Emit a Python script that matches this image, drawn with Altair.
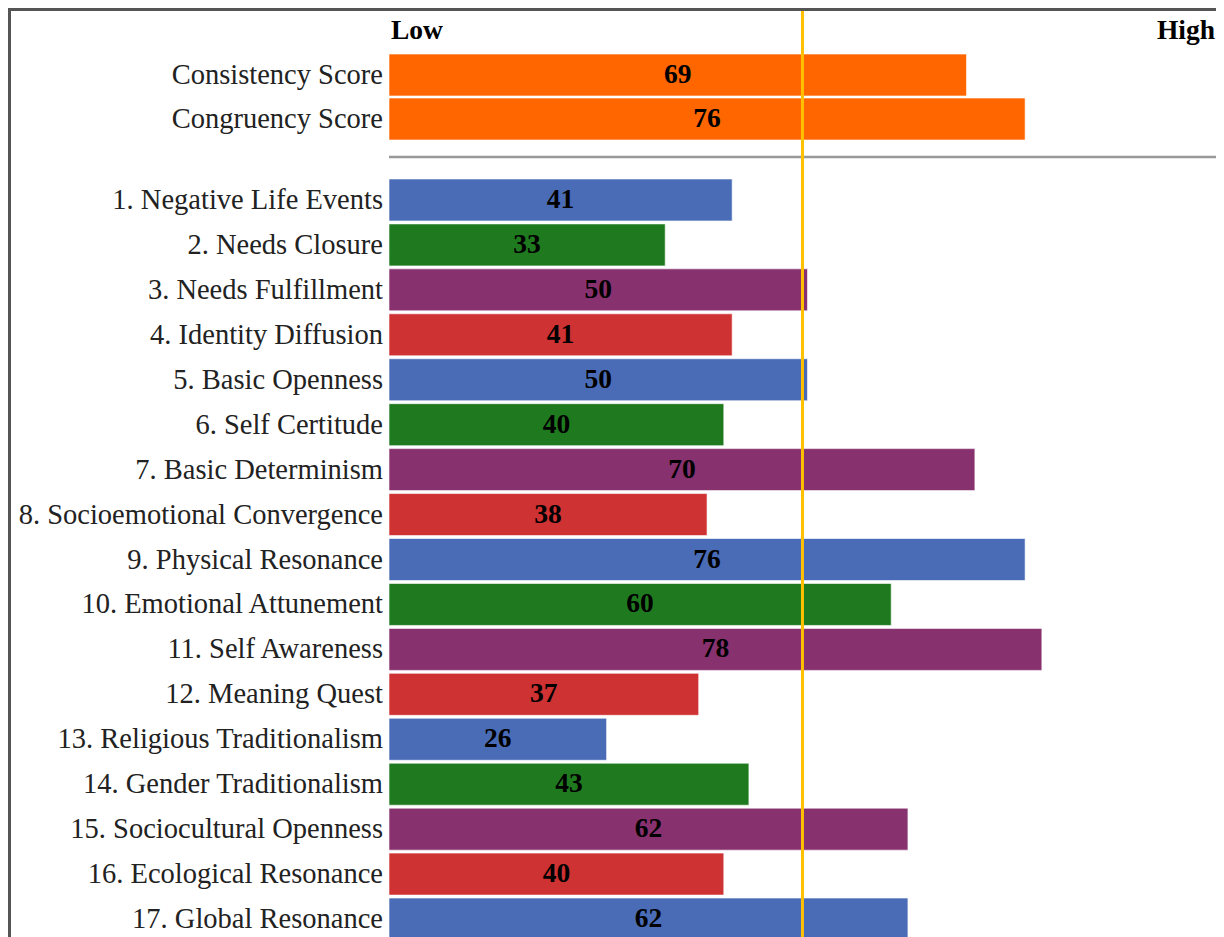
import altair as alt
import pandas as pd

# ---- data ----
summary_labels = ["Consistency Score", "Congruency Score"]
summary_values = [69, 76]

item_labels = [
    "1. Negative Life Events",
    "2. Needs Closure",
    "3. Needs Fulfillment",
    "4. Identity Diffusion",
    "5. Basic Openness",
    "6. Self Certitude",
    "7. Basic Determinism",
    "8. Socioemotional Convergence",
    "9. Physical Resonance",
    "10. Emotional Attunement",
    "11. Self Awareness",
    "12. Meaning Quest",
    "13. Religious Traditionalism",
    "14. Gender Traditionalism",
    "15. Sociocultural Openness",
    "16. Ecological Resonance",
    "17. Global Resonance",
]
item_values = [41, 33, 50, 41, 50, 40, 70, 38, 76, 60, 78, 37, 26, 43, 62, 40, 62]

low_label, high_label = "Low", "High"
midpoint = 49.4

# ---- styles ----
FONT = "Liberation Serif"
ORANGE = "#FF6600"
PALETTE = ["#4A6CB6", "#1F7A1F", "#88316F", "#CF3232"]
GROUPS = ["g0", "g1", "g2", "g3"]
MID_COLOR = "#FFC000"
FRAME = "#555555"

W, H = 1208, 940

top_rows = ["header"] + summary_labels + ["separator"]

x_scale = alt.Scale(domain=[0, 100], range=[381, 1218])
top_y = alt.Scale(domain=top_rows, range=[1, 177], paddingInner=0.0455, paddingOuter=0.02275)
bot_y = alt.Scale(domain=item_labels, range=[169.5, 933.5], paddingInner=0.0654, paddingOuter=0.0327)

summary_df = pd.DataFrame({"row": summary_labels, "value": summary_values})
items_df = pd.DataFrame({"row": item_labels, "value": item_values})
items_df["group"] = [GROUPS[i % 4] for i in range(len(item_labels))]
low_df = pd.DataFrame({"row": ["header"], "text": [low_label], "x": [0]})
high_df = pd.DataFrame({"row": ["header"], "text": [high_label], "x": [100]})
sep_df = pd.DataFrame({"row": ["separator"], "x0": [0], "x1": [100]})
mid_df = pd.DataFrame({"v": [midpoint]})

base_top = alt.Chart(summary_df)
base_bot = alt.Chart(items_df)

top_bars = base_top.mark_bar(color=ORANGE, stroke="white", strokeWidth=1, strokeOpacity=0.6).encode(
    x=alt.X("value:Q", scale=x_scale, axis=None),
    x2="zero:Q",
    y=alt.Y("row:N", scale=top_y, axis=None),
).transform_calculate(zero="0")
top_labels = base_top.mark_text(align="right", baseline="middle", dx=-6, font=FONT, fontSize=28.5, color="#222").encode(
    x=alt.X("zero:Q", scale=x_scale, axis=None),
    y=alt.Y("row:N", scale=top_y, axis=None),
    text="row:N",
).transform_calculate(zero="0")
top_nums = base_top.mark_text(align="center", baseline="middle", font=FONT, fontSize=27.5, fontWeight="bold", color="black").encode(
    x=alt.X("half:Q", scale=x_scale, axis=None),
    y=alt.Y("row:N", scale=top_y, axis=None),
    text="value:Q",
).transform_calculate(half="datum.value / 2")

low_txt = alt.Chart(low_df).mark_text(align="left", baseline="middle", dx=2, font=FONT, fontSize=27.5, fontWeight="bold", color="black").encode(
    x=alt.X("x:Q", scale=x_scale, axis=None),
    y=alt.Y("row:N", scale=top_y, axis=None),
    text="text:N",
)
high_txt = alt.Chart(high_df).mark_text(align="right", baseline="middle", dx=-11, font=FONT, fontSize=27.5, fontWeight="bold", color="black").encode(
    x=alt.X("x:Q", scale=x_scale, axis=None),
    y=alt.Y("row:N", scale=top_y, axis=None),
    text="text:N",
)

separator = alt.Chart(sep_df).mark_rule(color="#999999", strokeWidth=2.5).encode(
    x=alt.X("x0:Q", scale=x_scale, axis=None),
    x2="x1:Q",
    y=alt.Y("row:N", scale=top_y, axis=None, bandPosition=0.36),
)

bot_bars = base_bot.mark_bar(stroke="white", strokeWidth=1, strokeOpacity=0.6).encode(
    x=alt.X("value:Q", scale=x_scale, axis=None),
    x2="zero:Q",
    y=alt.Y("row:N", scale=bot_y, axis=None),
    color=alt.Color("group:N", scale=alt.Scale(domain=GROUPS, range=PALETTE), legend=None),
).transform_calculate(zero="0")
bot_labels = base_bot.mark_text(align="right", baseline="middle", dx=-6, font=FONT, fontSize=28.5, color="#222").encode(
    x=alt.X("zero:Q", scale=x_scale, axis=None),
    y=alt.Y("row:N", scale=bot_y, axis=None),
    text="row:N",
).transform_calculate(zero="0")
bot_nums = base_bot.mark_text(align="center", baseline="middle", font=FONT, fontSize=27.5, fontWeight="bold", color="black").encode(
    x=alt.X("half:Q", scale=x_scale, axis=None),
    y=alt.Y("row:N", scale=bot_y, axis=None),
    text="value:Q",
).transform_calculate(half="datum.value / 2")

mid_line = alt.Chart(mid_df).mark_rule(color=MID_COLOR, strokeWidth=3).encode(
    x=alt.X("v:Q", scale=x_scale, axis=None),
)

# frame (left and top edges of the bordered panel)
frame_left = alt.Chart(mid_df).mark_rule(color=FRAME, strokeWidth=3).encode(
    x=alt.value(1.5), y=alt.value(0), y2=alt.value(H)
)
frame_top = alt.Chart(mid_df).mark_rule(color=FRAME, strokeWidth=3).encode(
    y=alt.value(1.5), x=alt.value(0), x2=alt.value(W)
)

chart = alt.layer(
    top_bars, bot_bars, top_labels, bot_labels, low_txt, high_txt, separator, mid_line,
    top_nums, bot_nums, frame_left, frame_top
).resolve_scale(y="independent").properties(
    width=W, height=H,
    padding={"left": 0, "top": 0, "right": 0, "bottom": 0},
    autosize=alt.AutoSizeParams(type="none"),
    background="white",
).configure_view(stroke=None)

chart.save("out.html", embed_options={"renderer": "svg", "actions": False})
